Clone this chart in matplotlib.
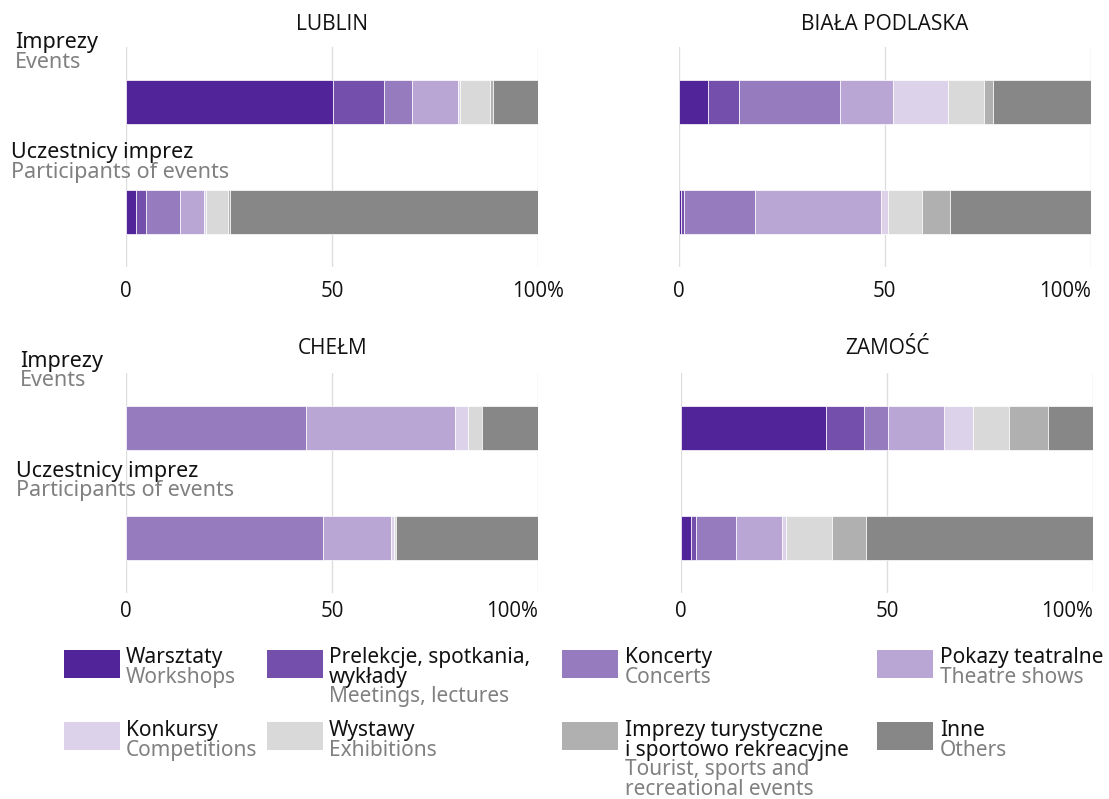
import numpy as np
import matplotlib.pyplot as plt
from matplotlib.patches import Rectangle

# --- Dane ---
categories_pl = ['Warsztaty', 'Prelekcje, spotkania,\nwykłady', 'Koncerty', 'Pokazy teatralne',
                 'Konkursy', 'Wystawy', 'Imprezy turystyczne\ni sportowo rekreacyjne', 'Inne']
categories_en = ['Workshops', 'Meetings, lectures', 'Concerts', 'Theatre shows',
                 'Competitions', 'Exhibitions', 'Tourist, sports and\nrecreational events', 'Others']
colors = ['#52249a', '#7450ac', '#967bbf', '#b9a6d5', '#dcd3ea', '#d9d9d9', '#b0b0b0', '#878787']

cities = ['LUBLIN', 'BIAŁA PODLASKA', 'CHEŁM', 'ZAMOŚĆ']
rows_pl = ['Imprezy', 'Uczestnicy imprez']
rows_en = ['Events', 'Participants of events']

# udziały procentowe (imprezy, uczestnicy)
lublin_events = [50.1, 12.5, 6.8, 11.2, 0.4, 7.3, 0.8, 10.9]
lublin_particip = [2.4, 2.5, 8.2, 5.7, 0.6, 5.3, 0.5, 74.8]
biala_events = [7.2, 7.4, 24.6, 12.8, 13.3, 8.7, 2.2, 23.8]
biala_particip = [0.6, 0.7, 17.2, 30.6, 1.8, 8.2, 6.7, 34.2]
chelm_events = [0.0, 0.0, 43.6, 36.2, 3.3, 3.2, 0.0, 13.7]
chelm_particip = [0.0, 0.0, 47.7, 16.6, 0.7, 0.5, 0.0, 34.5]
zamosc_events = [35.2, 9.2, 5.7, 13.7, 6.9, 8.8, 9.5, 11.0]
zamosc_particip = [2.4, 1.2, 9.7, 11.1, 1.0, 11.2, 8.2, 55.2]

data = [(lublin_events, lublin_particip), (biala_events, biala_particip),
        (chelm_events, chelm_particip), (zamosc_events, zamosc_particip)]

W, H = 1109, 799
BLACK = '#111111'
GRAY = '#808080'
LABEL_FONT = 'Noto Sans'
TICK_FONT = 'Open Sans'

fig = plt.figure(figsize=(W / 100, H / 100), dpi=100)

# pozycje paneli w pikselach: (x0, x1, y_top, y_bottom)
panels = [(126.3, 538.0, 47, 267), (678.7, 1090.7, 47, 267),
          (126.3, 538.0, 372.7, 593), (681.3, 1093.3, 372.7, 593)]
pads = [10, 10, 5.5, 5.5]
title_y = [24, 24, 349, 349]

for i, (city, (ev, pa)) in enumerate(zip(cities, data)):
    x0, x1, yt, yb = panels[i]
    ax = fig.add_axes([x0 / W, 1 - yb / H, (x1 - x0) / W, (yb - yt) / H])
    ax.set_facecolor('none')
    for v in [0, 50, 100]:
        ax.axvline(v, color='#dedede', lw=1, zorder=0)
    for r, vals in enumerate([ev, pa]):
        left = 0
        for k, v in enumerate(vals):
            if v > 0:
                ax.barh(r, v, left=left, height=0.4, color=colors[k],
                        edgecolor='white', linewidth=0.5, zorder=2)
            left += v
    ax.set_xlim(0, 100)
    ax.set_ylim(1.497, -0.497)
    for s in ax.spines.values():
        s.set_visible(False)
    ax.set_yticks([])
    ax.set_xticks([0, 50, 100])
    ax.set_xticklabels(['0', '50', '100%'], fontsize=14.8, fontfamily=TICK_FONT, color=BLACK)
    ax.tick_params(axis='x', length=0, pad=pads[i])
    if i > 0:
        ax.get_xticklabels()[-1].set_ha('right')
    fig.text((x0 + x1) / 2 / W, 1 - title_y[i] / H, city, ha='center', va='center',
             fontsize=15, fontfamily=TICK_FONT, color=BLACK)

# --- warstwa tekstów i legendy (współrzędne w pikselach) ---
lay = fig.add_axes([0, 0, 1, 1])
lay.set_xlim(0, W)
lay.set_ylim(H, 0)
lay.axis('off')

LS = 19.6
for yoff, xoff in [(0, 0), (318.7, 5)]:
    lay.text(15 + xoff, 48 + yoff, rows_pl[0], fontsize=15.5, fontfamily=LABEL_FONT, color=BLACK)
    lay.text(15 + xoff, 48 + LS + yoff, rows_en[0], fontsize=15.5, fontfamily=LABEL_FONT, color=GRAY)
    lay.text(11 + xoff, 158 + yoff, rows_pl[1], fontsize=15.5, fontfamily=LABEL_FONT, color=BLACK)
    lay.text(11 + xoff, 158 + LS + yoff, rows_en[1], fontsize=15.5, fontfamily=LABEL_FONT, color=GRAY)

patch_x = [64, 266.7, 562, 877]
text_x = [126, 329, 625, 940]
patch_y = [650, 722]
base_y = [663, 736]
for k in range(len(categories_pl)):
    c, r = k % 4, k // 4
    lay.add_patch(Rectangle((patch_x[c], patch_y[r]), 56, 28, color=colors[k], lw=0))
    pl_lines = categories_pl[k].split('\n')
    en_lines = categories_en[k].split('\n')
    y = base_y[r]
    for line in pl_lines:
        lay.text(text_x[c], y, line, fontsize=15, fontfamily=LABEL_FONT, color=BLACK)
        y += LS
    for line in en_lines:
        lay.text(text_x[c], y, line, fontsize=15, fontfamily=LABEL_FONT, color=GRAY)
        y += LS

fig.savefig('out.png', dpi=100)
